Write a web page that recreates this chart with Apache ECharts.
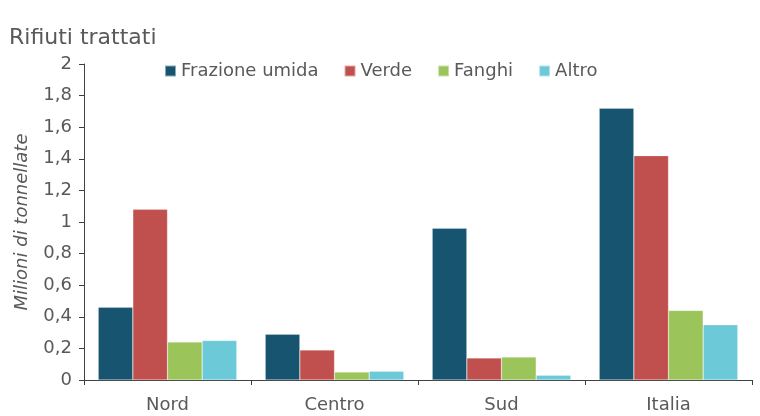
<!DOCTYPE html>
<html>
<head>
<meta charset="utf-8">
<script src="https://cdn.jsdelivr.net/npm/echarts@6/dist/echarts.min.js"></script>
<style>
html,body{margin:0;padding:0;background:#fff;}
#chart{width:760px;height:416px;}
</style>
</head>
<body>
<div id="chart"></div>
<script>
// dati
var categorie = ['Nord', 'Centro', 'Sud', 'Italia'];
var frazioneUmida = [0.46, 0.29, 0.96, 1.72];
var verde = [1.08, 0.19, 0.14, 1.42];
var fanghi = [0.24, 0.05, 0.145, 0.44];
var altro = [0.25, 0.055, 0.03, 0.35];
var nomiSerie = ['Frazione umida', 'Verde', 'Fanghi', 'Altro'];

var font = 'DejaVu Sans';
var grigio = '#595959';

function serie(nome, dati, colore) {
    return {
        name: nome,
        type: 'bar',
        data: dati,
        barGap: '0%',
        barCategoryGap: '17%',
        itemStyle: {color: colore, borderColor: 'rgba(255,255,255,0.5)', borderWidth: 0.5}
    };
}

var grafico = echarts.init(document.getElementById('chart'));
grafico.setOption({
    animation: false,
    title: {
        text: 'Rifiuti trattati',
        left: 4, top: 22,
        textStyle: {fontFamily: font, fontSize: 22, fontWeight: 'normal', color: grigio}
    },
    legend: {
        data: nomiSerie,
        left: 159, top: 57,
        itemWidth: 11, itemHeight: 11, itemGap: 25,
        icon: 'rect',
        textStyle: {fontFamily: font, fontSize: 18, color: grigio}
    },
    grid: {left: 84, right: 8, top: 64, bottom: 36},
    xAxis: {
        type: 'category',
        data: categorie,
        axisLine: {lineStyle: {color: '#404040'}},
        axisTick: {show: true, length: 5, lineStyle: {color: '#404040'}},
        axisLabel: {fontFamily: font, fontSize: 18, color: grigio, margin: 16}
    },
    yAxis: {
        type: 'value',
        min: 0, max: 2, interval: 0.2,
        name: 'Milioni di tonnellate',
        nameLocation: 'middle',
        nameGap: 53,
        nameTextStyle: {fontFamily: font, fontSize: 18, fontStyle: 'italic', color: grigio},
        axisLine: {show: true, lineStyle: {color: '#404040'}},
        axisTick: {show: true, length: 5, lineStyle: {color: '#404040'}},
        splitLine: {show: false},
        axisLabel: {
            fontFamily: font, fontSize: 18, color: grigio, margin: 12,
            formatter: function (v) { return String(Math.round(v * 10) / 10).replace('.', ','); }
        }
    },
    series: [
        serie(nomiSerie[0], frazioneUmida, '#16546f'),
        serie(nomiSerie[1], verde, '#c0504d'),
        serie(nomiSerie[2], fanghi, '#9bc45a'),
        serie(nomiSerie[3], altro, '#6ccad8')
    ]
});
</script>
</body>
</html>
